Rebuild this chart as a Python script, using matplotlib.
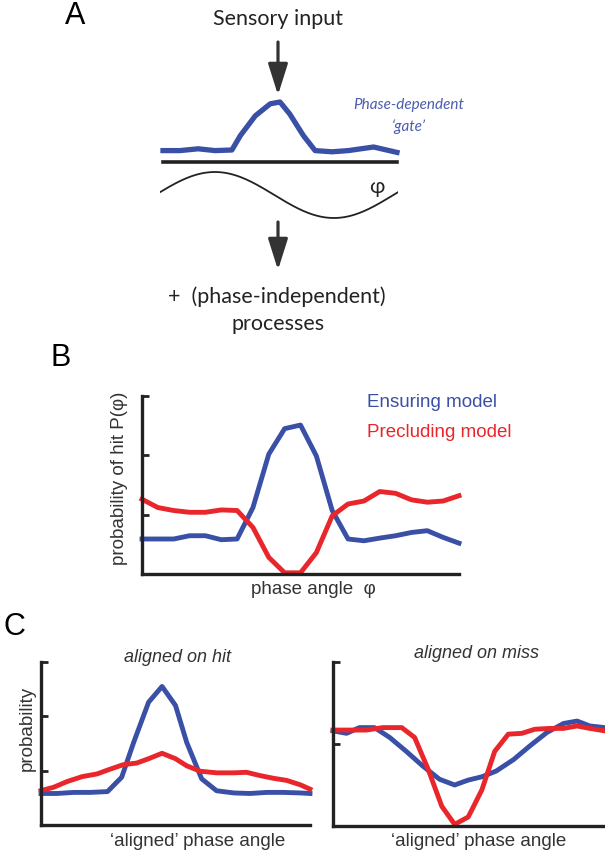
import numpy as np
import matplotlib
matplotlib.use("Agg")
import matplotlib.pyplot as plt

W, H = 605, 853
BLUE = "#3a50a6"
RED = "#e8262b"
DARK = "#222222"
ARIAL = ["Liberation Sans", "DejaVu Sans"]
CALIBRI = ["Lato", "DejaVu Sans"]

# ---------------- data ----------------
# Panel A: phase-dependent gate (schematic)
gate_phase = [0, 26, 54, 80, 106, 119, 142, 165, 180, 195, 216, 234, 260, 285, 324, 360]
gate_value = [0.19, 0.19, 0.22, 0.19, 0.20, 0.44, 0.77, 0.97, 1.0, 0.80, 0.44, 0.19, 0.17, 0.19, 0.25, 0.16]

# Panel B
b_phase = [-180, -162, -144, -126, -108, -90, -72, -54, -36, -18, 0, 18, 36, 54, 72, 90, 108, 126, 144, 162, 180]
b_ensuring = [0.59, 0.59, 0.59, 0.645, 0.645, 0.578, 0.59, 1.12, 2.02, 2.45, 2.51, 1.99, 1.07, 0.59, 0.56,
              0.605, 0.645, 0.70, 0.73, 0.617, 0.52]
b_precluding = [1.26, 1.12, 1.07, 1.04, 1.04, 1.08, 1.07, 0.785, 0.28, 0.02, 0.02, 0.36, 0.98, 1.18, 1.23,
                1.39, 1.36, 1.25, 1.21, 1.23, 1.32]

# Panel C, aligned on hit
hit_blue_phase = [-180, -159, -136, -114, -91, -72, -56, -36, -18, 0, 15, 35, 55, 78, 100, 122, 144, 167, 180]
hit_blue = [0.58, 0.58, 0.60, 0.60, 0.615, 0.88, 1.52, 2.26, 2.55, 2.20, 1.52, 0.85, 0.63, 0.59, 0.58,
            0.60, 0.60, 0.59, 0.58]
hit_red_phase = [-180, -163, -145, -125, -105, -87, -70, -52, -36, -18, 0, 15, 33, 55, 78, 95, 113, 131, 149, 167, 180]
hit_red = [0.633, 0.695, 0.80, 0.89, 0.94, 1.03, 1.11, 1.14, 1.22, 1.32, 1.22, 1.09, 0.99, 0.96, 0.96,
           0.97, 0.91, 0.86, 0.82, 0.74, 0.66]

# Panel C, aligned on miss
miss_blue_phase = [-180, -162, -145, -125, -105, -83, -61, -39, -19, -1, 17, 36, 59, 81, 103, 125, 143, 160, 180]
miss_blue = [1.16, 1.13, 1.20, 1.20, 1.08, 0.91, 0.73, 0.57, 0.50, 0.56, 0.60, 0.67, 0.81, 0.98, 1.14,
             1.25, 1.28, 1.22, 1.20]
miss_red_phase = [-180, -158, -136, -114, -89, -72, -54, -36, -19, -1, 17, 34, 52, 70, 87, 107, 125, 143, 160, 180]
miss_red = [1.17, 1.17, 1.17, 1.20, 1.20, 1.08, 0.69, 0.24, 0.02, 0.11, 0.44, 0.91, 1.12, 1.13, 1.18,
            1.19, 1.19, 1.22, 1.19, 1.16]

# ---------------- figure ----------------
fig = plt.figure(figsize=(W / 100, H / 100), dpi=100)


def fx(px):
    return px / W


def fy(py):
    return 1 - py / H


def add_ax(left, top, right, bottom):
    return fig.add_axes([fx(left), fy(bottom), (right - left) / W, (bottom - top) / H])


# ---- Panel A ----
fig.text(fx(75), fy(16), "A", fontsize=22, family=ARIAL, ha="center", va="center")
fig.text(fx(278), fy(19), "Sensory input", fontsize=15.5, family=CALIBRI, ha="center", va="center",
         color="#222222")
arrow_kw = dict(arrowstyle="-|>,head_length=1.9,head_width=0.6", lw=2.3, color="#333333",
                mutation_scale=10, shrinkA=0, shrinkB=0)
fig.add_artist(matplotlib.patches.FancyArrowPatch((fx(278), fy(43)), (fx(278), fy(96)),
                                                  transform=fig.transFigure, **arrow_kw))
fig.add_artist(matplotlib.patches.FancyArrowPatch((fx(278), fy(223)), (fx(278), fy(271)),
                                                  transform=fig.transFigure, **arrow_kw))

gax = add_ax(163, 91, 397, 163)
gax.plot(gate_phase, gate_value, color=BLUE, lw=3.8, clip_on=False, solid_joinstyle="round")
gax.set_xlim(0, 360)
gax.set_ylim(0, 1.2)
for s in ["top", "left", "right"]:
    gax.spines[s].set_visible(False)
gax.spines["bottom"].set_linewidth(2.6)
gax.spines["bottom"].set_color(DARK)
gax.set_xticks([])
gax.set_yticks([])
gax.patch.set_alpha(0)

sax = add_ax(160, 170, 398, 222)
theta = np.linspace(0, 360, 300)
sax.plot(theta, np.sin(np.radians(theta + 7)), color=DARK, lw=1.3)
sax.set_xlim(0, 360)
sax.set_ylim(-1.13, 1.13)
sax.axis("off")

fig.text(fx(377), fy(187), "φ", fontsize=15, family=CALIBRI, ha="center", va="center", color=DARK)
fig.text(fx(409), fy(105), "Phase-dependent", fontsize=11, family=CALIBRI, style="italic",
         ha="center", va="center", color="#4a5db0")
fig.text(fx(409), fy(127), "\u2018gate\u2019", fontsize=11, family=CALIBRI, style="italic",
         ha="center", va="center", color="#4a5db0")
fig.text(fx(277), fy(297), "+  (phase-independent)", fontsize=15.5, family=CALIBRI, ha="center",
         va="center", color=DARK)
fig.text(fx(278), fy(324), "processes", fontsize=15.5, family=CALIBRI, ha="center", va="center",
         color=DARK)


def style_axes(ax, yticks):
    for s in ["top", "right"]:
        ax.spines[s].set_visible(False)
    for s in ["left", "bottom"]:
        ax.spines[s].set_linewidth(2.4)
        ax.spines[s].set_color(DARK)
    ax.set_xticks([])
    ax.set_yticks(yticks)
    ax.set_yticklabels([])
    ax.tick_params(axis="y", direction="in", length=5, width=2, color=DARK)
    ax.set_xlim(-180, 180)
    ax.set_ylim(yticks[0], yticks[-1])


# ---- Panel B ----
fig.text(fx(61), fy(358), "B", fontsize=22, family=ARIAL, ha="center", va="center")
bax = add_ax(142, 397, 459, 575)
bax.plot(b_phase, b_ensuring, color=BLUE, lw=3.5, clip_on=False)
bax.plot(b_phase, b_precluding, color=RED, lw=3.5, clip_on=False)
style_axes(bax, [0, 1, 2, 3])
bax.text((367 - 142) / 317, (575 - 403) / 178, "Ensuring model", transform=bax.transAxes,
         color=BLUE, fontsize=13.5, family=ARIAL, ha="left", va="center")
bax.text((367 - 142) / 317, (575 - 433) / 178, "Precluding model", transform=bax.transAxes,
         color=RED, fontsize=13.5, family=ARIAL, ha="left", va="center", clip_on=False)
fig.text(fx(313), fy(589), "phase angle  φ", fontsize=13.5, family=ARIAL, ha="center", va="center",
         color="#333333")
fig.text(fx(119), fy(478), "probability of hit P(φ)", fontsize=13.5, family=ARIAL, rotation=90,
         ha="center", va="center", color="#333333")

# ---- Panel C ----
fig.text(fx(14), fy(627), "C", fontsize=22, family=ARIAL, ha="center", va="center")
cax1 = add_ax(41, 663, 310, 826)
cax1.plot(hit_blue_phase, hit_blue, color=BLUE, lw=3.5, clip_on=False)
cax1.plot(hit_red_phase, hit_red, color=RED, lw=3.5, clip_on=False)
style_axes(cax1, [0, 1, 2, 3])
fig.text(fx(178), fy(658), "aligned on hit", fontsize=13, family=ARIAL, style="italic",
         ha="center", va="center", color="#333333")
fig.text(fx(198), fy(842), "\u2018aligned\u2019 phase angle", fontsize=13.5, family=ARIAL,
         ha="center", va="center", color="#333333")
fig.text(fx(27), fy(728), "probability", fontsize=13.5, family=ARIAL, rotation=90,
         ha="center", va="center", color="#333333")

cax2 = add_ax(333, 663, 605, 827)
cax2.plot(miss_blue_phase, miss_blue, color=BLUE, lw=3.5, clip_on=False)
cax2.plot(miss_red_phase, miss_red, color=RED, lw=3.5, clip_on=False)
style_axes(cax2, [0, 1, 2])
fig.text(fx(477), fy(653), "aligned on miss", fontsize=13, family=ARIAL, style="italic",
         ha="center", va="center", color="#333333")
fig.text(fx(479), fy(842), "\u2018aligned\u2019 phase angle", fontsize=13.5, family=ARIAL,
         ha="center", va="center", color="#333333")

fig.savefig("out.png", dpi=100)
